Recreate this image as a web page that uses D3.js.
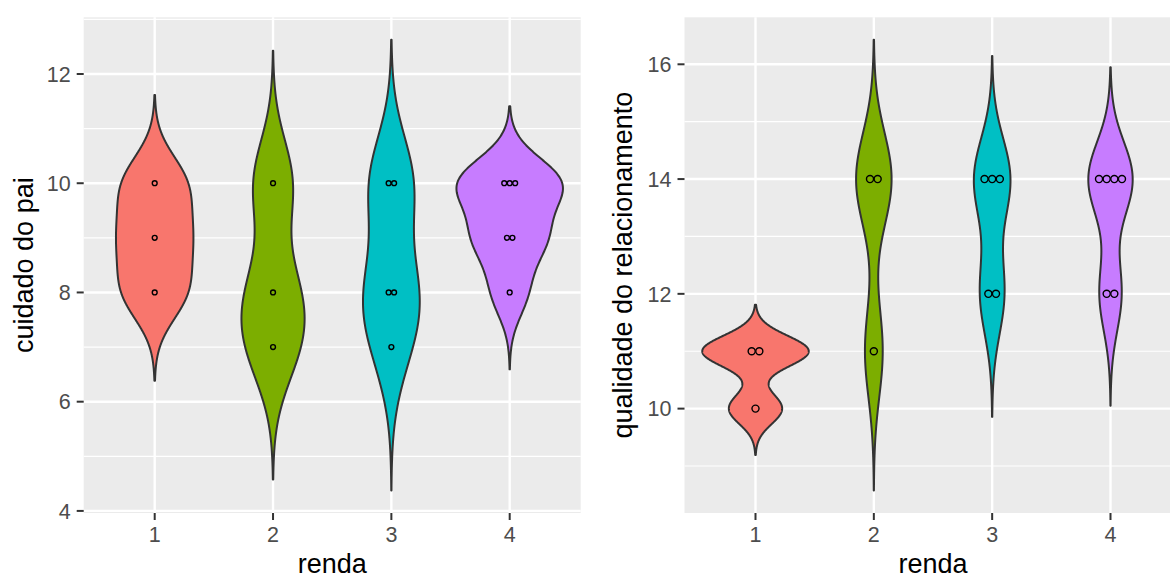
<!DOCTYPE html>
<html>
<head>
<meta charset="utf-8">
<script src="https://cdn.jsdelivr.net/npm/d3@7"></script>
<style>
  html, body { margin: 0; padding: 0; background: #fff; }
  svg { display: block; font-family: "Liberation Sans", Arial, Helvetica, sans-serif; }
</style>
</head>
<body>
<svg id="chart" width="1170" height="579"></svg>
<script>
// ---- data ----
const categories = ["1", "2", "3", "4"];
const colors = ["#F8766D", "#7CAE00", "#00BFC4", "#C77CFF"];
// cuidado do pai, observations per renda group
const cuidadoPai1 = [8, 9, 10];
const cuidadoPai2 = [7, 8, 10];
const cuidadoPai3 = [7, 8, 8, 10, 10];
const cuidadoPai4 = [8, 9, 9, 10, 10, 10];
// qualidade do relacionamento, observations per renda group
const qualidade1 = [10, 11, 11];
const qualidade2 = [11, 14, 14];
const qualidade3 = [12, 12, 14, 14, 14];
const qualidade4 = [12, 12, 14, 14, 14, 14];
const yTicksLeft = [4, 6, 8, 10, 12];
const yTicksRight = [10, 12, 14, 16];
const xTitle = "renda";
const yTitleLeft = "cuidado do pai";
const yTitleRight = "qualidade do relacionamento";

const svg = d3.select("#chart");

function bwNrd0(v) {
  const s = d3.sort(v);
  const sd = d3.deviation(s);
  const iqr = (d3.quantileSorted(s, 0.75) - d3.quantileSorted(s, 0.25)) / 1.34;
  const lo = Math.min(sd, iqr);
  return 0.9 * lo * Math.pow(s.length, -0.2);
}

function kde(v, bw, n) {
  const lo = d3.min(v) - 3 * bw, hi = d3.max(v) + 3 * bw;
  const pts = [];
  for (let i = 0; i < n; i++) {
    const y = lo + (hi - lo) * i / (n - 1);
    let s = 0;
    for (const x of v) { const z = (y - x) / bw; s += Math.exp(-0.5 * z * z); }
    pts.push({ y: y, d: s / (v.length * bw * Math.sqrt(2 * Math.PI)) });
  }
  return pts;
}

function drawPanel(groups, yTicks, box, yTitle) {
  const g = svg.append("g");
  const dens = groups.map(v => kde(v, bwNrd0(v), 512));
  const maxD = d3.max(dens, a => d3.max(a, p => p.d));
  const yMin = d3.min(dens, a => a[0].y), yMax = d3.max(dens, a => a[a.length - 1].y);
  const pad = (yMax - yMin) * 0.05;
  const y = d3.scaleLinear().domain([yMin - pad, yMax + pad]).range([box.y1, box.y0]);
  const x = d3.scaleLinear().domain([0.4, categories.length + 0.6]).range([box.x0, box.x1]);
  const unit = x(2) - x(1);

  // panel background
  g.append("rect").attr("x", box.x0).attr("y", box.y0)
    .attr("width", box.x1 - box.x0).attr("height", box.y1 - box.y0).attr("fill", "#EBEBEB");

  // minor grid
  const step = yTicks[1] - yTicks[0];
  const ext = [yTicks[0] - step, ...yTicks, yTicks[yTicks.length - 1] + step];
  const minors = [];
  for (let i = 0; i < ext.length - 1; i++) minors.push((ext[i] + ext[i + 1]) / 2);
  const [d0, d1] = y.domain();
  g.selectAll(".minor").data(minors.filter(m => m >= d0 && m <= d1)).join("line")
    .attr("x1", box.x0).attr("x2", box.x1)
    .attr("y1", d => y(d)).attr("y2", d => y(d))
    .attr("stroke", "#fff").attr("stroke-width", 1.2);
  // major grid
  g.selectAll(".majy").data(yTicks).join("line")
    .attr("x1", box.x0).attr("x2", box.x1)
    .attr("y1", d => y(d)).attr("y2", d => y(d))
    .attr("stroke", "#fff").attr("stroke-width", 2.4);
  g.selectAll(".majx").data(categories).join("line")
    .attr("x1", (d, i) => x(i + 1)).attr("x2", (d, i) => x(i + 1))
    .attr("y1", box.y0).attr("y2", box.y1)
    .attr("stroke", "#fff").attr("stroke-width", 2.4);

  // violins
  dens.forEach((a, i) => {
    const cx = x(i + 1);
    const area = d3.area()
      .y(p => y(p.y))
      .x0(p => cx - 0.45 * unit * p.d / maxD)
      .x1(p => cx + 0.45 * unit * p.d / maxD);
    g.append("path").attr("d", area(a))
      .attr("fill", colors[i]).attr("stroke", "#333333")
      .attr("stroke-width", 2).attr("stroke-linejoin", "round");
  });

  // dot plot (stacked centre, binwidth = range/30)
  const all = groups.flat();
  const binwidth = (d3.max(all) - d3.min(all)) / 30;
  const dia = Math.abs(y(0) - y(binwidth));
  groups.forEach((v, i) => {
    const cx = x(i + 1);
    const counts = d3.rollups(v, a => a.length, d => d);
    counts.forEach(([val, n]) => {
      for (let k = 0; k < n; k++) {
        g.append("circle")
          .attr("cx", cx + (k - (n - 1) / 2) * dia)
          .attr("cy", y(val))
          .attr("r", dia / 2 - 0.3)
          .attr("fill", colors[i]).attr("stroke", "#000").attr("stroke-width", 1.4);
      }
    });
  });

  // y axis ticks + labels
  g.selectAll(".ytk").data(yTicks).join("line")
    .attr("x1", box.x0 - 7).attr("x2", box.x0)
    .attr("y1", d => y(d)).attr("y2", d => y(d))
    .attr("stroke", "#333333").attr("stroke-width", 2);
  g.selectAll(".ylb").data(yTicks).join("text")
    .attr("x", box.x0 - 13).attr("y", d => y(d)).attr("dy", "0.36em")
    .attr("text-anchor", "end").attr("font-size", 21.5).attr("fill", "#4D4D4D")
    .text(d => d);
  // x axis ticks + labels
  g.selectAll(".xtk").data(categories).join("line")
    .attr("x1", (d, i) => x(i + 1)).attr("x2", (d, i) => x(i + 1))
    .attr("y1", box.y1).attr("y2", box.y1 + 7)
    .attr("stroke", "#333333").attr("stroke-width", 2);
  g.selectAll(".xlb").data(categories).join("text")
    .attr("x", (d, i) => x(i + 1)).attr("y", 542)
    .attr("text-anchor", "middle").attr("font-size", 21.5).attr("fill", "#4D4D4D")
    .text(d => d);

  // titles
  g.append("text").attr("x", (box.x0 + box.x1) / 2).attr("y", 573)
    .attr("text-anchor", "middle").attr("font-size", 27).attr("fill", "#000").text(xTitle);
  g.append("text")
    .attr("transform", `translate(${box.titleX},${(box.y0 + box.y1) / 2}) rotate(-90)`)
    .attr("text-anchor", "middle").attr("font-size", 27).attr("fill", "#000").text(yTitle);
}

drawPanel([cuidadoPai1, cuidadoPai2, cuidadoPai3, cuidadoPai4], yTicksLeft,
  { x0: 83.7, x1: 580.7, y0: 17.3, y1: 513, titleX: 32.5 }, yTitleLeft);
drawPanel([qualidade1, qualidade2, qualidade3, qualidade4], yTicksRight,
  { x0: 684.5, x1: 1181.5, y0: 17.3, y1: 513, titleX: 632 }, yTitleRight);
</script>
</body>
</html>
